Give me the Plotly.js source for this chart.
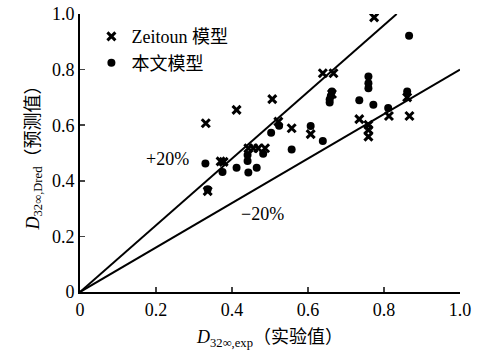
<!DOCTYPE html>
<html>
<head>
<meta charset="utf-8">
<script src="https://cdn.plot.ly/plotly-3.0.1.min.js"></script>
<style>html,body{margin:0;padding:0;background:#fff;}#chart{width:480px;height:353px;}</style>
</head>
<body>
<div id="chart"></div>
<script>
// Zeitoun model predictions (exp, pred)
const zeitounExp  = [0.331,0.336,0.370,0.378,0.412,0.443,0.456,0.469,0.487,0.506,0.522,0.557,0.607,0.639,0.667,0.663,0.735,0.759,0.759,0.759,0.774,0.813,0.861,0.867];
const zeitounPred = [0.607,0.363,0.470,0.468,0.655,0.517,0.517,0.517,0.517,0.694,0.613,0.589,0.568,0.787,0.787,0.712,0.622,0.601,0.583,0.559,0.988,0.633,0.700,0.633];
// Present model predictions
const modelExp  = [0.330,0.336,0.375,0.412,0.441,0.441,0.443,0.465,0.482,0.503,0.524,0.557,0.607,0.639,0.663,0.660,0.657,0.657,0.735,0.759,0.759,0.759,0.772,0.811,0.861,0.866];
const modelPred = [0.462,0.370,0.432,0.447,0.493,0.471,0.430,0.447,0.497,0.573,0.598,0.513,0.597,0.543,0.721,0.705,0.692,0.682,0.690,0.775,0.751,0.733,0.674,0.662,0.721,0.922];
// Error band lines: pred = ratio * exp
const bandRatios = [1.2, 0.8];
const tickVals = [0, 0.2, 0.4, 0.6, 0.8, 1.0];
const tickText = ['0', '0.2', '0.4', '0.6', '0.8', '1.0'];

const FAMILY = 'Times New Roman, Liberation Serif, Noto Sans CJK SC, serif';
function F(size) { return {family: FAMILY, size: size, color: '#000'}; }

const bandTraces = bandRatios.map(r => {
  const xEnd = Math.min(1, 1 / r);
  return {x: [0, xEnd], y: [0, r * xEnd], mode: 'lines', type: 'scatter',
          line: {color: '#000', width: 2}, showlegend: false, hoverinfo: 'skip'};
});

const traces = bandTraces.concat([
  {x: zeitounExp, y: zeitounPred, mode: 'markers', type: 'scatter', name: 'Zeitoun 模型',
   marker: {symbol: 'x-thin-open', size: 8, color: '#000', line: {width: 3, color: '#000'}}},
  {x: modelExp, y: modelPred, mode: 'markers', type: 'scatter', name: '本文模型',
   marker: {symbol: 'circle', size: 8, color: '#000'}}
]);

const layout = {
  width: 480, height: 353,
  margin: {l: 80, r: 20, t: 14, b: 61},
  paper_bgcolor: '#fff', plot_bgcolor: '#fff',
  font: F(18),
  showlegend: true,
  legend: {x: 0.03, y: 0.985, xanchor: 'left', yanchor: 'top', bgcolor: 'rgba(0,0,0,0)',
           font: F(18), itemwidth: 30, tracegroupgap: 0},
  xaxis: {range: [0, 1], tickvals: tickVals, ticktext: tickText, ticks: 'inside', ticklen: 5,
          tickwidth: 1.5, showline: true, linewidth: 2, linecolor: '#000', showgrid: false,
          zeroline: false, tickfont: F(18), fixedrange: true,
          title: {text: '<i>D</i><sub>32∞,exp</sub>（实验值）', font: F(18), standoff: 12}},
  yaxis: {range: [0, 1], tickvals: tickVals, ticktext: tickText, ticks: 'inside', ticklen: 5,
          tickwidth: 1.5, showline: true, linewidth: 2, linecolor: '#000', showgrid: false,
          zeroline: false, tickfont: F(18), fixedrange: true,
          title: {text: '<i>D</i><sub>32∞,Dred</sub>（预测值）', font: F(18), standoff: 8}},
  annotations: [
    {x: 0.23, y: 0.48, xref: 'x', yref: 'y', text: '+20%', showarrow: false, font: F(18)},
    {x: 0.48, y: 0.28, xref: 'x', yref: 'y', text: '−20%', showarrow: false, font: F(18)}
  ]
};

Plotly.newPlot('chart', traces, layout, {displayModeBar: false, staticPlot: true});
</script>
</body>
</html>
